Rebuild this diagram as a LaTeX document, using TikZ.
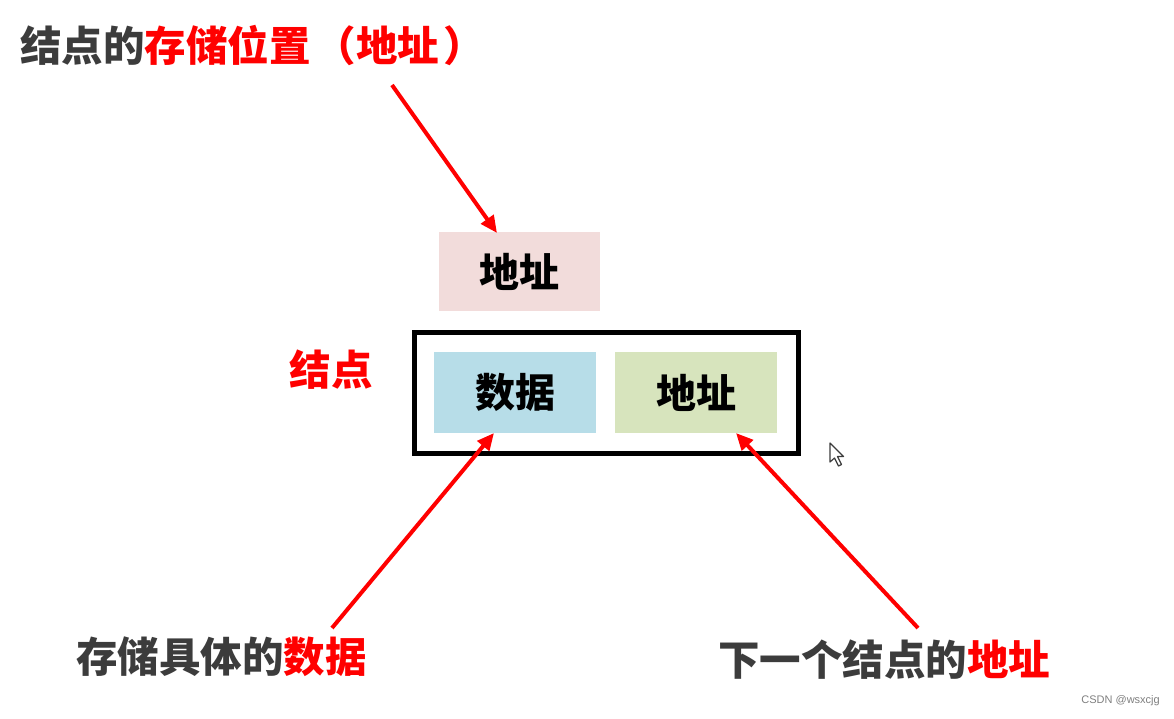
\documentclass[tikz,border=0pt]{standalone}
\usepackage{fontspec}
\newfontfamily\cjk{Noto Sans CJK SC}
\usetikzlibrary{arrows.meta}
\definecolor{txtgray}{HTML}{3C3C3C}
\definecolor{rd}{HTML}{FF0000}
\definecolor{pinkfill}{HTML}{F2DCDB}
\definecolor{bluefill}{HTML}{B7DDE8}
\definecolor{greenfill}{HTML}{D7E4BD}
\tikzset{
  big/.style={font=\cjk\bfseries\fontsize{41.5}{41.5}\selectfont, inner sep=0pt},
  boxlabel/.style={font=\cjk\bfseries\fontsize{40}{40}\selectfont, text=black, inner sep=0pt},
  cell/.style={minimum width=162pt, minimum height=81pt, inner sep=0pt, draw=none},
  redarrow/.style={draw=rd, line width=4pt, -{Triangle[length=17pt,width=15pt]}},
}
\begin{document}
\begin{tikzpicture}[x=1pt,y=-1pt]
\useasboundingbox (0,0) rectangle (1174,718);
\fill[white] (0,0) rectangle (1174,718);

% top title
\node[big, anchor=west] (title) at (20,45) {\textcolor{txtgray}{结点的}\textcolor{rd}{存储位置\hspace{4pt}（地址\hspace{4pt}）}};

% address box (pink)
\node[cell, fill=pinkfill, minimum width=161pt, minimum height=79pt] (addr) at (519.5,271.5) {};
\node[boxlabel] (addrtxt) at (addr.center) {地址};

% node frame
\node[draw=black, line width=5pt, minimum width=384pt, minimum height=121pt, inner sep=0pt] (frame) at (606,392.5) {};
\node[cell, fill=bluefill] (data) at (515,392.5) {};
\node[boxlabel] (datatxt) at (data.center) {数据};
\node[cell, fill=greenfill] (next) at (696,392.5) {};
\node[boxlabel] (nexttxt) at (next.center) {地址};

% label 结点
\node[big, text=rd] (nodelbl) at (331,370) {结点};

% bottom labels
\node[big, anchor=west] (datalbl) at (76,657) {\textcolor{txtgray}{存储具体的}\textcolor{rd}{数据}};
\node[big, anchor=west] (nextlbl) at (718,660) {\textcolor{txtgray}{下一个结点的}\textcolor{rd}{地址}};

% arrow endpoints
\coordinate (a1s) at (392,85);
\coordinate (a1e) at (497,233);
\coordinate (a2s) at (332,628);
\coordinate (a2e) at (494,433);
\coordinate (a3s) at (918,628);
\coordinate (a3e) at (736,433);

\draw[redarrow] (a1s) -- (a1e);
\draw[redarrow] (a2s) -- (a2e);
\draw[redarrow] (a3s) -- (a3e);

% mouse cursor
\draw[fill=white, draw=txtgray, line width=1.2pt, line join=round]
  (830,443) -- (830,462) -- (834.5,458) -- (838.5,466) -- (841.5,464.5) -- (837.5,456.5) -- (843.5,456.5) -- cycle;

% watermark
\node[font=\fontspec{Liberation Sans}\fontsize{11}{11}\selectfont, text=gray, anchor=east, inner sep=0pt] (wm) at (1160,701) {CSDN @wsxcjg};
\end{tikzpicture}
\end{document}
